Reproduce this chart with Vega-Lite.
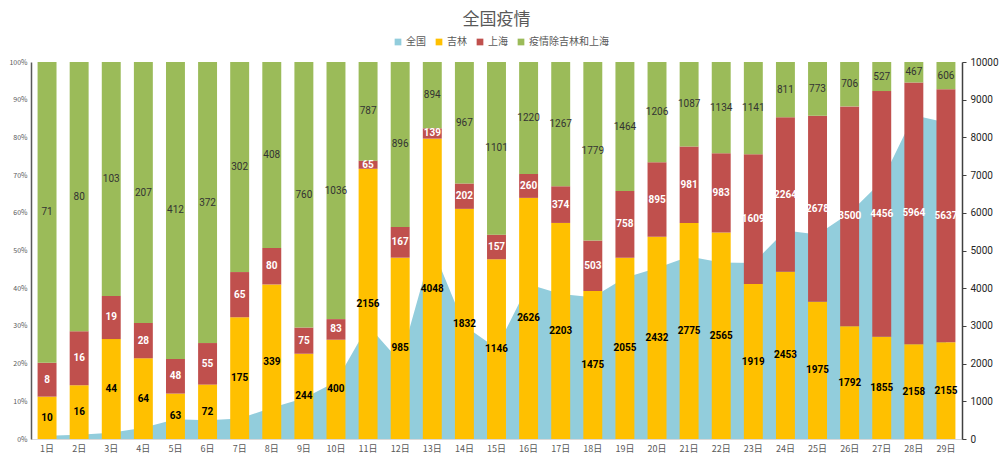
{
  "$schema": "https://vega.github.io/schema/vega-lite/v6.json",
  "autosize": "none",
  "width": 931,
  "height": 377,
  "padding": {"left": 31, "top": 62, "right": 38, "bottom": 22},
  "background": "white",
  "title": {"text": "全国疫情", "fontSize": 17, "font": "Noto Sans CJK SC", "fontWeight": "normal", "color": "#595959", "anchor": "middle", "frame": "group", "offset": 8},
  "config": {"view": {"stroke": null}, "font": "Noto Sans CJK SC", "axisLeft": {"labelOverlap": false}},
  "datasets": {
    "parts": [
      {"d":1,"s":"吉林","k":1,"v":10},{"d":1,"s":"上海","k":2,"v":8},{"d":1,"s":"疫情除吉林和上海","k":3,"v":71},
      {"d":2,"s":"吉林","k":1,"v":16},{"d":2,"s":"上海","k":2,"v":16},{"d":2,"s":"疫情除吉林和上海","k":3,"v":80},
      {"d":3,"s":"吉林","k":1,"v":44},{"d":3,"s":"上海","k":2,"v":19},{"d":3,"s":"疫情除吉林和上海","k":3,"v":103},
      {"d":4,"s":"吉林","k":1,"v":64},{"d":4,"s":"上海","k":2,"v":28},{"d":4,"s":"疫情除吉林和上海","k":3,"v":207},
      {"d":5,"s":"吉林","k":1,"v":63},{"d":5,"s":"上海","k":2,"v":48},{"d":5,"s":"疫情除吉林和上海","k":3,"v":412},
      {"d":6,"s":"吉林","k":1,"v":72},{"d":6,"s":"上海","k":2,"v":55},{"d":6,"s":"疫情除吉林和上海","k":3,"v":372},
      {"d":7,"s":"吉林","k":1,"v":175},{"d":7,"s":"上海","k":2,"v":65},{"d":7,"s":"疫情除吉林和上海","k":3,"v":302},
      {"d":8,"s":"吉林","k":1,"v":339},{"d":8,"s":"上海","k":2,"v":80},{"d":8,"s":"疫情除吉林和上海","k":3,"v":408},
      {"d":9,"s":"吉林","k":1,"v":244},{"d":9,"s":"上海","k":2,"v":75},{"d":9,"s":"疫情除吉林和上海","k":3,"v":760},
      {"d":10,"s":"吉林","k":1,"v":400},{"d":10,"s":"上海","k":2,"v":83},{"d":10,"s":"疫情除吉林和上海","k":3,"v":1036},
      {"d":11,"s":"吉林","k":1,"v":2156},{"d":11,"s":"上海","k":2,"v":65},{"d":11,"s":"疫情除吉林和上海","k":3,"v":787},
      {"d":12,"s":"吉林","k":1,"v":985},{"d":12,"s":"上海","k":2,"v":167},{"d":12,"s":"疫情除吉林和上海","k":3,"v":896},
      {"d":13,"s":"吉林","k":1,"v":4048},{"d":13,"s":"上海","k":2,"v":139},{"d":13,"s":"疫情除吉林和上海","k":3,"v":894},
      {"d":14,"s":"吉林","k":1,"v":1832},{"d":14,"s":"上海","k":2,"v":202},{"d":14,"s":"疫情除吉林和上海","k":3,"v":967},
      {"d":15,"s":"吉林","k":1,"v":1146},{"d":15,"s":"上海","k":2,"v":157},{"d":15,"s":"疫情除吉林和上海","k":3,"v":1101},
      {"d":16,"s":"吉林","k":1,"v":2626},{"d":16,"s":"上海","k":2,"v":260},{"d":16,"s":"疫情除吉林和上海","k":3,"v":1220},
      {"d":17,"s":"吉林","k":1,"v":2203},{"d":17,"s":"上海","k":2,"v":374},{"d":17,"s":"疫情除吉林和上海","k":3,"v":1267},
      {"d":18,"s":"吉林","k":1,"v":1475},{"d":18,"s":"上海","k":2,"v":503},{"d":18,"s":"疫情除吉林和上海","k":3,"v":1779},
      {"d":19,"s":"吉林","k":1,"v":2055},{"d":19,"s":"上海","k":2,"v":758},{"d":19,"s":"疫情除吉林和上海","k":3,"v":1464},
      {"d":20,"s":"吉林","k":1,"v":2432},{"d":20,"s":"上海","k":2,"v":895},{"d":20,"s":"疫情除吉林和上海","k":3,"v":1206},
      {"d":21,"s":"吉林","k":1,"v":2775},{"d":21,"s":"上海","k":2,"v":981},{"d":21,"s":"疫情除吉林和上海","k":3,"v":1087},
      {"d":22,"s":"吉林","k":1,"v":2565},{"d":22,"s":"上海","k":2,"v":983},{"d":22,"s":"疫情除吉林和上海","k":3,"v":1134},
      {"d":23,"s":"吉林","k":1,"v":1919},{"d":23,"s":"上海","k":2,"v":1609},{"d":23,"s":"疫情除吉林和上海","k":3,"v":1141},
      {"d":24,"s":"吉林","k":1,"v":2453},{"d":24,"s":"上海","k":2,"v":2264},{"d":24,"s":"疫情除吉林和上海","k":3,"v":811},
      {"d":25,"s":"吉林","k":1,"v":1975},{"d":25,"s":"上海","k":2,"v":2678},{"d":25,"s":"疫情除吉林和上海","k":3,"v":773},
      {"d":26,"s":"吉林","k":1,"v":1792},{"d":26,"s":"上海","k":2,"v":3500},{"d":26,"s":"疫情除吉林和上海","k":3,"v":706},
      {"d":27,"s":"吉林","k":1,"v":1855},{"d":27,"s":"上海","k":2,"v":4456},{"d":27,"s":"疫情除吉林和上海","k":3,"v":527},
      {"d":28,"s":"吉林","k":1,"v":2158},{"d":28,"s":"上海","k":2,"v":5964},{"d":28,"s":"疫情除吉林和上海","k":3,"v":467},
      {"d":29,"s":"吉林","k":1,"v":2155},{"d":29,"s":"上海","k":2,"v":5637},{"d":29,"s":"疫情除吉林和上海","k":3,"v":606}
    ],
    "nation": [
      {"d":1,"total":89},{"d":2,"total":112},{"d":3,"total":166},{"d":4,"total":299},{"d":5,"total":523},
      {"d":6,"total":499},{"d":7,"total":542},{"d":8,"total":827},{"d":9,"total":1079},{"d":10,"total":1519},
      {"d":11,"total":3008},{"d":12,"total":2048},{"d":13,"total":5081},{"d":14,"total":3001},{"d":15,"total":2404},
      {"d":16,"total":4106},{"d":17,"total":3844},{"d":18,"total":3757},{"d":19,"total":4277},{"d":20,"total":4533},
      {"d":21,"total":4843},{"d":22,"total":4682},{"d":23,"total":4669},{"d":24,"total":5528},{"d":25,"total":5426},
      {"d":26,"total":5998},{"d":27,"total":6838},{"d":28,"total":8589},{"d":29,"total":8398}
    ]
  },
  "encoding": {
    "x": {
      "field": "d", "type": "ordinal",
      "scale": {"type": "band", "paddingInner": 0.41, "paddingOuter": 0.205},
      "axis": {"title": null, "labelAngle": 0, "labelExpr": "datum.value + '日'", "labelFontSize": 9, "labelColor": "#595959", "ticks": false, "domainColor": "#d9d9d9", "labelPadding": 5, "labelFont": "Noto Sans CJK SC"}
    }
  },
  "layer": [
    {
      "data": {"name": "nation"},
      "mark": {"type": "area", "interpolate": "linear"},
      "encoding": {
        "x": {"field": "d", "type": "ordinal", "bandPosition": 0.5},
        "y": {
          "field": "total", "type": "quantitative",
          "scale": {"domain": [0, 10000]},
          "axis": {"orient": "right", "title": null, "format": "d", "values": [0,1000,2000,3000,4000,5000,6000,7000,8000,9000,10000], "labelOverlap": false, "grid": false, "domainColor": "#404040", "domainWidth": 1.5, "tickColor": "#404040", "tickSize": 4, "labelFontSize": 10, "labelColor": "#262626", "labelFont": "Roboto", "labelPadding": 4}
        },
        "color": {"datum": "全国", "type": "nominal"}
      }
    },
    {
      "data": {"name": "parts"},
      "layer": [
        {
          "mark": {"type": "bar"},
          "encoding": {
            "y": {
              "field": "v", "type": "quantitative", "stack": "normalize",
              "axis": {"orient": "left", "title": null, "format": ".0%", "values": [0,0.1,0.2,0.3,0.4,0.5,0.6,0.7,0.8,0.9,1], "labelOverlap": false, "gridColor": "#d9d9d9", "domainColor": "#595959", "domainWidth": 1.5, "ticks": false, "labelFontSize": 7, "labelColor": "#595959", "labelPadding": 4}
            },
            "order": {"field": "k"},
            "color": {
              "field": "s", "type": "nominal",
              "scale": {"domain": ["全国", "吉林", "上海", "疫情除吉林和上海"], "range": ["#92CDDC", "#FFC000", "#C0504D", "#9BBB59"]},
              "legend": {"orient": "none", "legendX": 362, "legendY": -25, "direction": "horizontal", "title": null, "symbolType": "square", "symbolSize": 45, "labelFontSize": 10, "labelColor": "#595959", "columnPadding": 8, "labelOffset": 3, "symbolStrokeWidth": 0, "labelFont": "Noto Sans CJK SC"}
            }
          }
        },
        {
          "mark": {"type": "text", "fontSize": 10, "fontWeight": "bold", "font": "Roboto"},
          "encoding": {
            "y": {"field": "v", "type": "quantitative", "stack": "normalize", "bandPosition": 0.5,
              "axis": {"orient": "left", "title": null, "format": ".0%", "values": [0,0.1,0.2,0.3,0.4,0.5,0.6,0.7,0.8,0.9,1], "labelOverlap": false, "gridColor": "#d9d9d9", "domainColor": "#595959", "domainWidth": 1.5, "ticks": false, "labelFontSize": 7, "labelColor": "#595959", "labelPadding": 4}},
            "order": {"field": "k"},
            "text": {"field": "v", "type": "quantitative"},
            "color": {"condition": {"test": "datum.s === '上海'", "value": "#ffffff"}, "value": "#000000"},
            "opacity": {"condition": {"test": "datum.s === '疫情除吉林和上海'", "value": 0}, "value": 1}
          }
        },
        {
          "mark": {"type": "text", "fontSize": 10, "font": "Roboto"},
          "encoding": {
            "y": {"field": "v", "type": "quantitative", "stack": "normalize", "bandPosition": 0.5,
              "axis": {"orient": "left", "title": null, "format": ".0%", "values": [0,0.1,0.2,0.3,0.4,0.5,0.6,0.7,0.8,0.9,1], "labelOverlap": false, "gridColor": "#d9d9d9", "domainColor": "#595959", "domainWidth": 1.5, "ticks": false, "labelFontSize": 7, "labelColor": "#595959", "labelPadding": 4}},
            "order": {"field": "k"},
            "text": {"field": "v", "type": "quantitative"},
            "color": {"value": "#333333"},
            "opacity": {"condition": {"test": "datum.s === '疫情除吉林和上海'", "value": 1}, "value": 0}
          }
        }
      ]
    }
  ],
  "resolve": {"scale": {"y": "independent"}}
}
